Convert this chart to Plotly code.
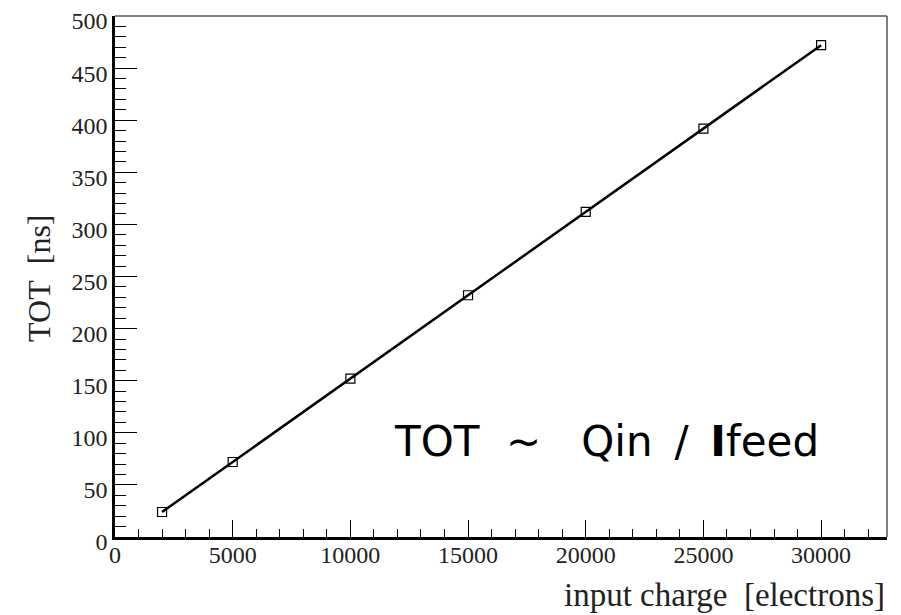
import plotly.graph_objects as go

charge = [2000, 5000, 10000, 15000, 20000, 25000, 30000]
tot_ns = [24, 72, 152, 232, 312, 392, 472]

x_ticks = [0, 5000, 10000, 15000, 20000, 25000, 30000]
y_ticks = [0, 50, 100, 150, 200, 250, 300, 350, 400, 450, 500]

serif = "Liberation Serif, Times New Roman, serif"
nb = "\u00a0"
thin = "\u2009"

fig = go.Figure()
fig.add_trace(go.Scatter(
    x=charge, y=tot_ns, mode="lines+markers",
    line=dict(color="black", width=2.5),
    marker=dict(symbol="square-open", size=9, color="black", line=dict(width=1.2)),
    showlegend=False,
))

fig.update_layout(
    width=893, height=607,
    margin=dict(l=107, r=14, t=8, b=78),
    paper_bgcolor="white", plot_bgcolor="white",
    font=dict(family=serif, color="black", size=24),
    xaxis=dict(
        range=[0, 32800], tickvals=x_ticks, ticktext=[str(v) for v in x_ticks],
        ticks="inside", ticklen=17, tickwidth=1, tickcolor="black",
        minor=dict(dtick=1000, tick0=0, ticks="inside", ticklen=8, tickwidth=1, tickcolor="black"),
        showline=True, linecolor="black", linewidth=2.5,
        showgrid=False, zeroline=False, automargin=False,
        ticklabelstandoff=-6, ticklabeloverflow="allow",
        tickfont=dict(family=serif, size=24, color="#222"),
    ),
    yaxis=dict(
        range=[0, 500], tickvals=y_ticks, ticktext=[str(v) for v in y_ticks],
        ticks="inside", ticklen=22, tickwidth=1, tickcolor="black",
        minor=dict(dtick=10, tick0=0, ticks="inside", ticklen=11, tickwidth=1, tickcolor="black"),
        showline=True, linecolor="black", linewidth=2.5,
        showgrid=False, zeroline=False, automargin=False,
        ticklabeloverflow="allow", ticklabelshift=5,
        tickfont=dict(family=serif, size=24, color="#222"),
    ),
    shapes=[
        dict(type="line", xref="paper", yref="paper", x0=0, x1=1, y0=1, y1=1,
             line=dict(color="#555", width=1.5)),
        dict(type="line", xref="paper", yref="paper", x0=1, x1=1, y0=0, y1=1,
             line=dict(color="#555", width=1.5)),
    ],
    annotations=[
        dict(text="input charge" + nb * 2 + "[electrons]", xref="paper", yref="paper",
             x=1.0, y=-0.111, xanchor="right", yanchor="middle", showarrow=False,
             font=dict(family=serif, size=33, color="#222")),
        dict(text="TOT" + nb * 2 + "[ns]", xref="paper", yref="paper", textangle=-90,
             x=-0.0984, y=0.4955, xanchor="center", yanchor="middle", showarrow=False,
             font=dict(family=serif, size=32, color="#222")),
        dict(text="TOT" + nb * 2 + "~" + nb * 3 + "Qin" + nb + thin + "/" + thin + nb + "<b>I</b>feed",
             xref="paper", yref="paper",
             x=0.359, y=0.1838, xanchor="left", yanchor="middle", showarrow=False,
             font=dict(family="DejaVu Sans, Arial, sans-serif", size=42, color="black")),
    ],
)

fig.write_html("out.html")
